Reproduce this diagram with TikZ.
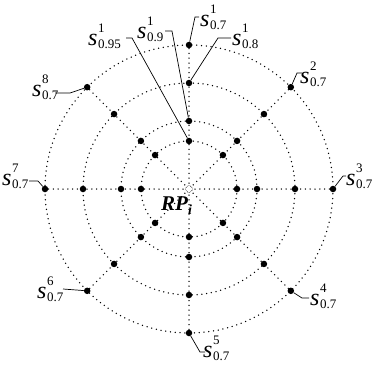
\documentclass[tikz,border=0pt]{standalone}
\usepackage{fontspec}
\setmainfont{Liberation Serif}
\usetikzlibrary{calc}
\newcommand{\slab}[2]{\textit{s}\kern0.5pt\rlap{\raisebox{13pt}{\fontsize{13}{13}\selectfont #1}}\raisebox{-3.5pt}{\fontsize{13}{13}\selectfont #2}}
\begin{document}
\begin{tikzpicture}[x=1pt,y=-1pt,
  dotline/.style={line width=1.5pt, dash pattern=on 0pt off 4.8pt, line cap=round},
  dotnode/.style={circle, fill=black, inner sep=0pt, minimum size=6.5pt},
  lead/.style={line width=0.7pt},
  lab/.style={inner sep=0pt, font=\fontsize{24}{26}\selectfont}]
\useasboundingbox (0,0) rectangle (375,370);
\coordinate (C) at (189,189);
\foreach \r in {48,68,106,144} \draw[dotline] (C) circle[radius=\r];
\foreach \a in {0,45,...,315} \draw[dotline] ($(C)+(\a:6)$) -- ($(C)+(\a:144)$);
\foreach \k in {1,...,8}{
  \pgfmathsetmacro{\ang}{-90+45*(\k-1)}
  \foreach \r/\j in {144/1,106/2,68/3,48/4}{
    \node[dotnode] (d\k-\j) at ($(C)+(\ang:\r)$) {};
  }
}
\node[circle, draw, fill=white, line width=0.9pt, dash pattern=on 0pt off 1.8pt, line cap=round, minimum size=7pt, inner sep=0pt] (RP) at (C) {};
\node[anchor=base west, inner sep=0pt, font=\fontsize{21}{24}\selectfont\bfseries\itshape] (rplab) at (161,210) {RP\raisebox{-4.5pt}{\fontsize{14}{14}\selectfont i}};
% leaders
\draw[lead] (d1-1) -- (195,17) -- (199,17);
\draw[lead] (d1-2) -- (218,38) -- (231,38);
\draw[lead] (d1-3) -- (172,31) -- (165,31);
\draw[lead] (d1-4) -- (132,38) -- (126,38);
\draw[lead] (d2-1) -- (297,73) -- (302,73);
\draw[lead] (d8-1) -- (70,93) -- (55,93);
\draw[lead] (d7-1) -- (38,181) -- (29,181);
\draw[lead] (d3-1) -- (343,176) -- (346,176);
\draw[lead] (d4-1) -- (302,298) -- (309,298);
\draw[lead] (d5-1) -- (200,352) -- (205,352);
\draw[lead] (d6-1) -- (63,289);
% labels
\node[lab, anchor=base west] (l1a) at (200,26) {\slab{1}{0.7}};
\node[lab, anchor=base west] (l1b) at (232,45) {\slab{1}{0.8}};
\node[lab, anchor=base west] (l1c) at (137,38) {\slab{1}{0.9}};
\node[lab, anchor=base west] (l1d) at (88,45) {\slab{1}{0.95}};
\node[lab, anchor=base west] (l2) at (300,83) {\slab{2}{0.7}};
\node[lab, anchor=base west] (l8) at (32,96) {\slab{8}{0.7}};
\node[lab, anchor=base west] (l7) at (2,185) {\slab{7}{0.7}};
\node[lab, anchor=base west] (l3) at (346,185) {\slab{3}{0.7}};
\node[lab, anchor=base west] (l4) at (310,305) {\slab{4}{0.7}};
\node[lab, anchor=base west] (l5) at (203,357) {\slab{5}{0.7}};
\node[lab, anchor=base west] (l6) at (37,298) {\slab{6}{0.7}};
\end{tikzpicture}
\end{document}
